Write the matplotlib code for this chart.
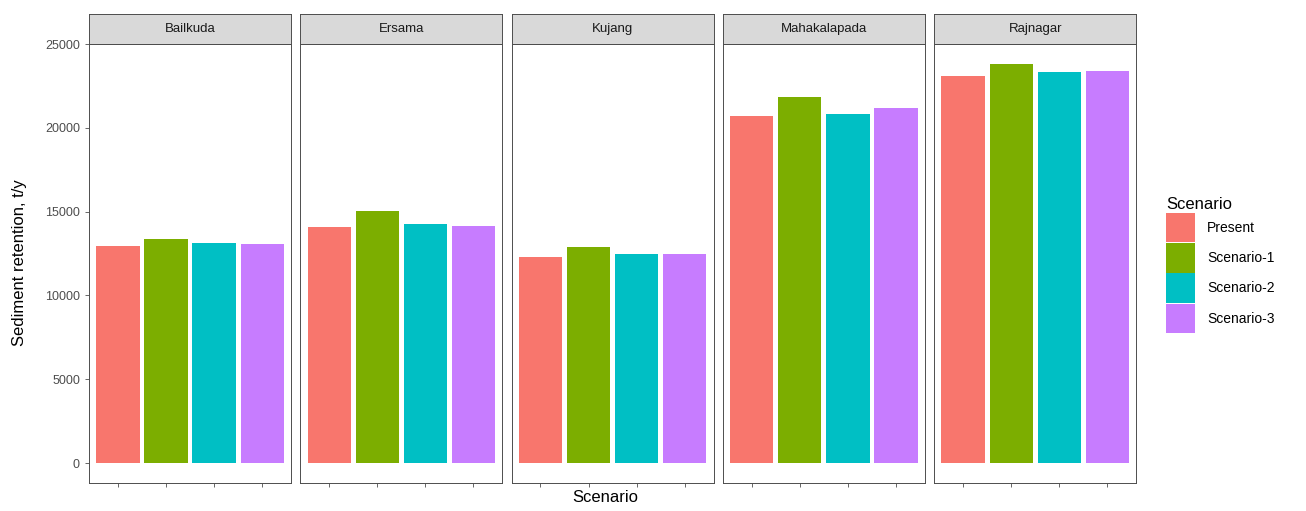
import numpy as np
import matplotlib
matplotlib.use("Agg")
import matplotlib.pyplot as plt
from matplotlib.patches import Patch

plt.rcParams['font.family'] = ['Liberation Sans', 'DejaVu Sans']

# data
blocks = ["Bailkuda", "Ersama", "Kujang", "Mahakalapada", "Rajnagar"]
scenarios = ["Present", "Scenario-1", "Scenario-2", "Scenario-3"]
present = [12950, 14080, 12290, 20700, 23090]
scenario_1 = [13370, 15040, 12890, 21840, 23810]
scenario_2 = [13130, 14260, 12470, 20820, 23330]
scenario_3 = [13070, 14140, 12470, 21180, 23390]
colors = ["#F8766D", "#7CAE00", "#00BFC4", "#C77CFF"]

values = np.array([present, scenario_1, scenario_2, scenario_3])
ymax = values.max()

W, H = 1306, 511
fig = plt.figure(figsize=(W / 100, H / 100), dpi=100)

left0 = 89
pw = 202
gap = 9.3
ptop = 44
pbot = 483
strip_h = 30
edge = "#4d4d4d"

x = np.arange(1, 5)
for i, blk in enumerate(blocks):
    l = left0 + i * (pw + gap)
    ax = fig.add_axes([l / W, (H - pbot) / H, pw / W, (pbot - ptop) / H])
    ax.bar(x, values[:, i], width=0.9, color=colors)
    ax.set_xlim(0.4, 4.6)
    ax.set_ylim(-0.05 * ymax, 1.05 * ymax)
    ax.set_xticks(x)
    ax.set_xticklabels([])
    ax.set_yticks([0, 5000, 10000, 15000, 20000, 25000])
    ax.tick_params(length=3, width=0.6, color=edge, labelsize=9, labelcolor="#4d4d4d")
    if i > 0:
        ax.tick_params(axis="y", left=False, labelleft=False)
    for s in ax.spines.values():
        s.set_color(edge)
        s.set_linewidth(0.7)
    # facet strip
    sax = fig.add_axes([l / W, (H - ptop) / H, pw / W, strip_h / H])
    sax.set_facecolor("#D9D9D9")
    sax.set_xticks([])
    sax.set_yticks([])
    for s in sax.spines.values():
        s.set_color(edge)
        s.set_linewidth(0.7)
    sax.text(0.5, 0.5, blk, ha="center", va="center", fontsize=9.5, color="#1a1a1a",
             transform=sax.transAxes)

fig.text(20 / W, (H - 263) / H, "Sediment retention, t/y", rotation=90,
         ha="center", va="center", fontsize=12)
fig.text(605 / W, (H - 497) / H, "Scenario", ha="center", va="center", fontsize=12)

handles = [Patch(facecolor=c, edgecolor="none") for c in colors]
leg = fig.legend(handles, scenarios, title="Scenario", loc="upper left",
                 bbox_to_anchor=(1155 / W, (H - 186) / H), frameon=False,
                 fontsize=10, title_fontsize=12, handlelength=2.1, handleheight=2.9,
                 labelspacing=0.05, handletextpad=0.85, alignment="left",
                 borderpad=0.3)
leg.get_title().set_position((0, 0))

fig.savefig("out.png", dpi=100)
